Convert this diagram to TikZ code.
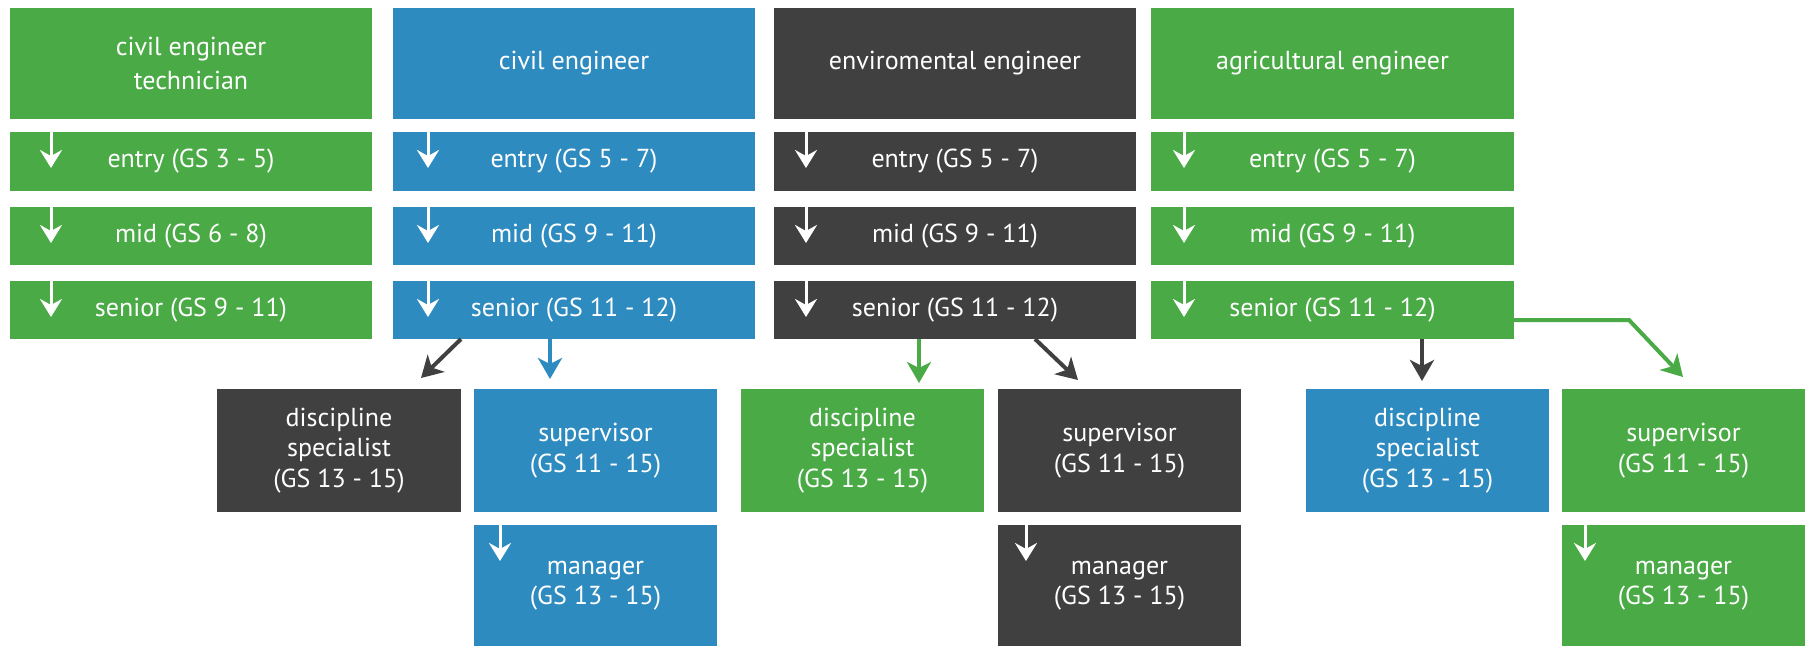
\documentclass[tikz,border=0pt]{standalone}
\usepackage{fontspec}
\setmainfont{PT Sans}
\usetikzlibrary{arrows.meta,calc}
\definecolor{cgreen}{HTML}{4AAA46}
\definecolor{cblue}{HTML}{2E8BC0}
\definecolor{cdark}{HTML}{404040}
\newcommand{\mybx}[7]{%
  \node[box, fill=#6, minimum width={#4-#2}, minimum height={#5-#3}] (#1) at ({(#2+#4)/2},{(#3+#5)/2}) {#7};}
\begin{document}
\begin{tikzpicture}[x=1pt,y=-1pt,
  box/.style={inner sep=0pt, outer sep=0pt, text=white, align=center,
    font=\fontsize{26}{30.5}\selectfont},
  warrow/.style={white, line width=3pt, -{Stealth[length=18pt,width=22pt,inset=6pt]}},
  conn/.style={line width=4pt, -{Stealth[length=21pt,width=24pt,inset=6pt]}}]
\useasboundingbox (0,0) rectangle (1805,646);
% column 1
\mybx{h1}{10}{8}{372}{119}{cgreen}{civil engineer\\[3.5pt]technician}
\mybx{e1}{10}{132}{372}{191}{cgreen}{entry (GS 3 - 5)}
\mybx{m1}{10}{207}{372}{265}{cgreen}{mid (GS 6 - 8)}
\mybx{s1}{10}{281}{372}{339}{cgreen}{senior (GS 9 - 11)}
% column 2
\mybx{h2}{393}{8}{755}{119}{cblue}{civil engineer}
\mybx{e2}{393}{132}{755}{191}{cblue}{entry (GS 5 - 7)}
\mybx{m2}{393}{207}{755}{265}{cblue}{mid (GS 9 - 11)}
\mybx{s2}{393}{281}{755}{339}{cblue}{senior (GS 11 - 12)}
% column 3
\mybx{h3}{774}{8}{1136}{119}{cdark}{enviromental engineer}
\mybx{e3}{774}{132}{1136}{191}{cdark}{entry (GS 5 - 7)}
\mybx{m3}{774}{207}{1136}{265}{cdark}{mid (GS 9 - 11)}
\mybx{s3}{774}{281}{1136}{339}{cdark}{senior (GS 11 - 12)}
% column 4
\mybx{h4}{1151}{8}{1514}{119}{cgreen}{agricultural engineer}
\mybx{e4}{1151}{132}{1514}{191}{cgreen}{entry (GS 5 - 7)}
\mybx{m4}{1151}{207}{1514}{265}{cgreen}{mid (GS 9 - 11)}
\mybx{s4}{1151}{281}{1514}{339}{cgreen}{senior (GS 11 - 12)}
% bottom row
\mybx{d1}{217}{389}{461}{512}{cdark}{discipline\\specialist\\(GS 13 - 15)}
\mybx{p2}{474}{389}{717}{512}{cblue}{supervisor\\(GS 11 - 15)}
\mybx{n2}{474}{525}{717}{646}{cblue}{manager\\(GS 13 - 15)}
\mybx{d2}{741}{389}{984}{512}{cgreen}{discipline\\specialist\\(GS 13 - 15)}
\mybx{p3}{998}{389}{1241}{512}{cdark}{supervisor\\(GS 11 - 15)}
\mybx{n3}{998}{525}{1241}{646}{cdark}{manager\\(GS 13 - 15)}
\mybx{d3}{1306}{389}{1549}{512}{cblue}{discipline\\specialist\\(GS 13 - 15)}
\mybx{p4}{1562}{389}{1805}{512}{cgreen}{supervisor\\(GS 11 - 15)}
\mybx{n4}{1562}{525}{1805}{646}{cgreen}{manager\\(GS 13 - 15)}
% white arrows inside the columns
\foreach \a/\b/\dx in {h1/e1/41,e1/m1/41,m1/s1/41,h2/e2/35,e2/m2/35,m2/s2/35,
  h3/e3/32,e3/m3/32,m3/s3/32,h4/e4/33,e4/m4/33,m4/s4/33,p2/n2/26,p3/n3/28,p4/n4/23}
  \draw[warrow] ([xshift=\dx pt]\a.south west) -- ([xshift=\dx pt,yshift=-36pt]\b.north west);
% coloured connectors
\draw[conn, cdark] ([xshift=68pt]s2.south west) -- ([xshift=204pt,yshift=11pt]d1.north west);
\draw[conn, cblue] ([xshift=157pt]s2.south west) -- ([xshift=76pt,yshift=10pt]p2.north west);
\draw[conn, cgreen] ([xshift=145pt]s3.south west) -- ([xshift=178pt,yshift=6pt]d2.north west);
\draw[conn, cdark] ([xshift=261pt]s3.south west) -- ([xshift=80pt,yshift=9pt]p3.north west);
\draw[conn, cdark] ([xshift=271pt]s4.south west) -- ([xshift=116pt,yshift=8pt]d3.north west);
\draw[conn, cgreen] ([yshift=-10pt]s4.east) -- ++(115,0) -- ([xshift=121pt,yshift=12pt]p4.north west);
\end{tikzpicture}
\end{document}
